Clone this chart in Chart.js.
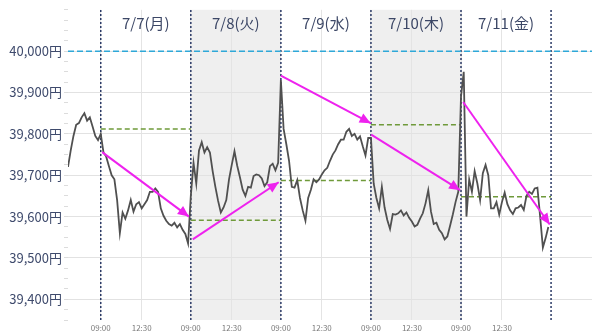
<!DOCTYPE html>
<html><head><meta charset="utf-8">
<script src="https://cdn.jsdelivr.net/npm/chart.js@4/dist/chart.umd.min.js"></script>
<style>html,body{margin:0;padding:0;background:#fff}</style>
</head><body>
<canvas id="c" width="600" height="333"></canvas>
<script>
// ---- data ----
const dayLabels = ['7/7(月)', '7/8(火)', '7/9(水)', '7/10(木)', '7/11(金)'];
const shadedDays = [1, 3];
const dayMinutes = 330;       // 09:00-11:30 + 12:30-15:30 (lunch removed)
const stepMin = 10;
const priorStart = -120;      // previous session tail (minutes before 7/7 09:00)
const priorPrices = [39720, 39760, 39795, 39822, 39826, 39840, 39850, 39832, 39840, 39818, 39795, 39785];
const day1Prices = [39800, 39755, 39745, 39722, 39700, 39690, 39640, 39560, 39610, 39595, 39615, 39640, 39612, 39630, 39635, 39620, 39630, 39640, 39660, 39660, 39668, 39660, 39620, 39602, 39590, 39582, 39578, 39585, 39574, 39582, 39568, 39558, 39535];
const day2Prices = [39650, 39730, 39680, 39760, 39780, 39755, 39768, 39755, 39710, 39672, 39638, 39610, 39622, 39640, 39690, 39725, 39758, 39723, 39695, 39665, 39650, 39672, 39670, 39698, 39702, 39700, 39692, 39674, 39683, 39722, 39728, 39712, 39730];
const day3Prices = [39930, 39812, 39775, 39735, 39672, 39670, 39688, 39645, 39615, 39590, 39645, 39665, 39690, 39683, 39690, 39702, 39712, 39718, 39735, 39750, 39760, 39775, 39786, 39786, 39805, 39812, 39795, 39800, 39786, 39794, 39770, 39748, 39790];
const day4Prices = [39790, 39680, 39645, 39620, 39672, 39622, 39592, 39570, 39606, 39605, 39608, 39615, 39603, 39610, 39597, 39588, 39576, 39580, 39595, 39608, 39632, 39664, 39612, 39582, 39585, 39568, 39560, 39545, 39552, 39578, 39605, 39635, 39660];
const day5Prices = [39890, 39950, 39600, 39690, 39660, 39710, 39680, 39640, 39705, 39725, 39700, 39620, 39620, 39635, 39605, 39635, 39658, 39630, 39615, 39606, 39620, 39622, 39628, 39616, 39650, 39660, 39655, 39668, 39670, 39600, 39525, 39548, 39575];
const greenLevels = [39812, 39591, 39687, 39822, 39648];
const arrowStartVals = [39756, 39545, 39941, 39798, 39877];
const arrowEndVals = [39600, 39683, 39826, 39664, 39581];
const arrowStartMin = [5, 7, 0, 1, 8];
const arrowEndMin = [323, 322, 329, 327, 325];
const refLevel = 40000;
const timeTicks = [0, 150, 330, 480, 660, 810, 990, 1140, 1320, 1470];
const timeTickLabels = ['09:00', '12:30', '09:00', '12:30', '09:00', '12:30', '09:00', '12:30', '09:00', '12:30'];
const yMin = 39350, yMax = 40100, xMin = -120, xMax = 1800;
const yLabelMax = 40000;

// ---- build ----
const FONT = "'Noto Sans CJK JP', 'Noto Sans', sans-serif";
const dayArrays = [day1Prices, day2Prices, day3Prices, day4Prices, day5Prices];
const pricePts = priorPrices.map((v, i) => ({x: priorStart + i * stepMin, y: v}));
dayArrays.forEach((arr, d) => arr.forEach((v, i) => pricePts.push({x: d * dayMinutes + i * stepMin, y: v})));

const datasets = [];
for (let d = 0; d < 5; d++) {
  datasets.push({
    label: 'arrow' + d, isArrow: true,
    data: [{x: d * dayMinutes + arrowStartMin[d], y: arrowStartVals[d]}, {x: d * dayMinutes + arrowEndMin[d], y: arrowEndVals[d]}],
    borderColor: '#ee22ee', borderWidth: 2, pointRadius: 0, order: 0
  });
}
datasets.push({label: 'price', data: pricePts, borderColor: '#505050', borderWidth: 1.8, pointRadius: 0, tension: 0, order: 1});
for (let d = 0; d < 5; d++) {
  datasets.push({
    label: 'green' + d,
    data: [{x: d * dayMinutes, y: greenLevels[d]}, {x: (d + 1) * dayMinutes, y: greenLevels[d]}],
    borderColor: '#6f9a3a', borderWidth: 1.5, borderDash: [5, 3], pointRadius: 0, order: 2
  });
}
datasets.push({label: 'ref', data: [{x: xMin, y: refLevel}, {x: xMax, y: refLevel}],
  borderColor: '#2ea8d8', borderWidth: 1.5, borderDash: [6, 3], pointRadius: 0, order: 3});
for (let d = 0; d <= 5; d++) {
  datasets.push({label: 'day' + d, data: [{x: d * dayMinutes, y: yMin}, {x: d * dayMinutes, y: yMax}],
    borderColor: '#2b3a66', borderWidth: 1.5, borderDash: [2, 2], pointRadius: 0, order: 4});
}

const shadePlugin = {
  id: 'shade',
  beforeDraw(chart) {
    const {ctx, chartArea: a, scales: {x}} = chart;
    ctx.save();
    ctx.fillStyle = '#efefef';
    shadedDays.forEach(d => {
      const x0 = x.getPixelForValue(d * dayMinutes), x1 = x.getPixelForValue((d + 1) * dayMinutes);
      ctx.fillRect(x0, a.top, x1 - x0, a.bottom - a.top);
    });
    ctx.restore();
  }
};
const decoPlugin = {
  id: 'deco',
  afterDatasetsDraw(chart) {
    const {ctx, chartArea: a, scales: {x}} = chart;
    ctx.save();
    chart.data.datasets.forEach((ds, i) => {
      if (!ds.isArrow) return;
      const pts = chart.getDatasetMeta(i).data;
      const p0 = pts[0], p1 = pts[1];
      const ang = Math.atan2(p1.y - p0.y, p1.x - p0.x);
      const L = 11, W = 5;
      ctx.fillStyle = ds.borderColor;
      ctx.beginPath();
      ctx.moveTo(p1.x, p1.y);
      ctx.lineTo(p1.x - L * Math.cos(ang) + W * Math.sin(ang), p1.y - L * Math.sin(ang) - W * Math.cos(ang));
      ctx.lineTo(p1.x - L * Math.cos(ang) - W * Math.sin(ang), p1.y - L * Math.sin(ang) + W * Math.cos(ang));
      ctx.closePath();
      ctx.fill();
    });
    ctx.fillStyle = '#3c4766';
    ctx.font = '15px ' + FONT;
    ctx.textAlign = 'center';
    ctx.textBaseline = 'middle';
    dayLabels.forEach((t, d) => {
      ctx.fillText(t, x.getPixelForValue(d * dayMinutes + dayMinutes / 2), a.top + 13);
    });
    ctx.restore();
  }
};

const isMajor = v => v % 100 === 0 && v <= yLabelMax;

new Chart(document.getElementById('c'), {
  type: 'line',
  data: {datasets},
  plugins: [shadePlugin, decoPlugin],
  options: {
    responsive: false, animation: false, devicePixelRatio: 1,
    layout: {padding: {top: 5, right: 8, left: 0, bottom: 0}},
    plugins: {legend: {display: false}, tooltip: {enabled: false}},
    scales: {
      x: {
        type: 'linear', min: xMin, max: xMax,
        afterBuildTicks: s => { s.ticks = timeTicks.map(v => ({value: v})); },
        afterFit: s => { s.height = 13; },
        ticks: {autoSkip: false, maxRotation: 0, padding: 3, color: '#7a7a7a', font: {size: 8, family: FONT},
          callback: (v, i) => timeTickLabels[i]},
        grid: {color: '#e4e4e4', drawTicks: false},
        border: {display: false}
      },
      y: {
        min: yMin, max: yMax,
        afterFit: s => { s.width = 68; },
        ticks: {stepSize: 25, autoSkip: false, padding: 2, color: '#3e4a6c', font: {size: 13, family: FONT},
          callback: v => (isMajor(v) ? v.toLocaleString('en-US') + '円' : '')},
        grid: {
          color: c => (c.tick && isMajor(c.tick.value) ? '#e2e2e2' : 'rgba(0,0,0,0)'),
          tickColor: '#dcdcdc', tickLength: 4, drawTicks: true
        },
        border: {display: false}
      }
    }
  }
});
</script>
</body></html>
